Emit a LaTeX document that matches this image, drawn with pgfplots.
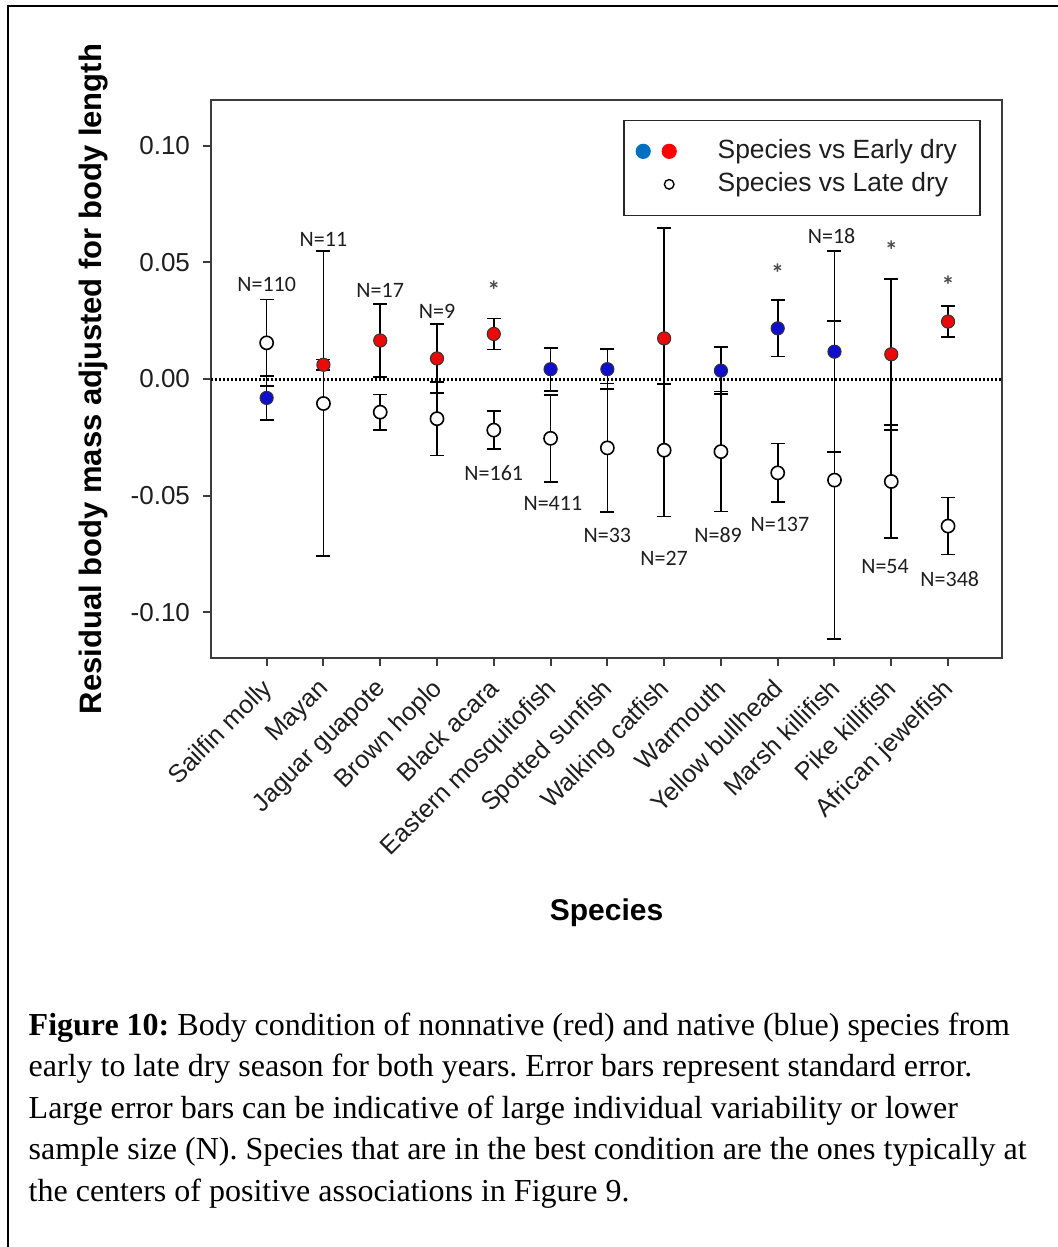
\documentclass[border=0pt]{standalone}
\usepackage{fontspec}
\setmainfont{Liberation Sans}
\newfontfamily\capfont{Liberation Serif}
\newfontfamily\nfont{Carlito}
\usepackage{pgfplots}
\pgfplotsset{compat=1.18}
\usepackage{pgfplotstable}

\definecolor{ptblue}{RGB}{15,15,205}
\definecolor{ptred}{RGB}{235,10,10}
\definecolor{lgblue}{RGB}{0,112,192}
\definecolor{lgred}{RGB}{255,0,0}
\definecolor{axgray}{RGB}{60,60,60}
\definecolor{txt}{RGB}{30,30,30}

\pgfplotstableread{
x y e
0 -0.0081 0.0094
5 0.0042 0.0092
6 0.0042 0.0086
8 0.0036 0.0101
9 0.0217 0.0121
10 0.0117 0.0430
}\native

\pgfplotstableread{
x y e
1 0.0061 0.0023
2 0.0165 0.0155
3 0.0088 0.0147
4 0.0193 0.0066
7 0.0174 0.0473
11 0.0106 0.0323
12 0.0246 0.0066
}\nonnative

\pgfplotstableread{
x y e
0 0.0155 0.0186
1 -0.0105 0.0652
2 -0.0142 0.0076
3 -0.0170 0.0158
4 -0.0219 0.0082
5 -0.0254 0.0186
6 -0.0295 0.0276
7 -0.0305 0.0284
8 -0.0311 0.0257
9 -0.0402 0.0126
10 -0.0433 0.0682
11 -0.0439 0.0242
12 -0.0630 0.0122
}\late

\begin{document}
\frenchspacing
\begin{tikzpicture}
\useasboundingbox (0,0) rectangle (529pt,-623.5pt);
\draw[line width=1pt] (4pt,-623.5pt) -- (4pt,-3pt) -- (529pt,-3pt);
\begin{axis}[
  at={(105.5pt,-329pt)}, anchor=south west,
  scale only axis, width=395.5pt, height=279pt,
  xmin=-0.98, xmax=12.95, ymin=-0.1195, ymax=0.1195,
  clip=false,
  axis line style={axgray, line width=1pt},
  tick style={axgray, line width=1pt},
  major tick length=4pt,
  tick align=outside,
  xtick pos=bottom, ytick pos=left,
  xtick={0,...,12},
  xticklabels={Sailfin molly, Mayan, Jaguar guapote, Brown hoplo, Black acara, Eastern mosquitofish, Spotted sunfish, Walking catfish, Warmouth, Yellow bullhead, Marsh killifish, Pike killifish, African jewelfish},
  ytick={-0.1,-0.05,0,0.05,0.1},
  /pgf/number format/assume math mode=true,
  yticklabel style={/pgf/number format/fixed, /pgf/number format/fixed zerofill, /pgf/number format/precision=2, xshift=-3pt, font=\fontsize{13}{15}\selectfont},
  tick label style={text=txt},
  xticklabel style={font=\fontsize{12.6}{15}\selectfont, rotate=45, anchor=north east, inner sep=0pt, xshift=-6pt, yshift=-1.5pt},
  ylabel={Residual body mass adjusted for body length},
  ylabel style={font=\bfseries\fontsize{15.5}{18}\selectfont, at={(axis description cs:-0.149,0.5)}, anchor=center},
  xlabel={Species},
  xlabel style={font=\bfseries\fontsize{15}{18}\selectfont, at={(axis description cs:0.5,-0.457)}, anchor=center},
  legend style={at={(axis description cs:0.973,0.965)}, anchor=north east, draw=black!85, line width=0.8pt,
    font=\fontsize{13.2}{15}\selectfont, text=txt, inner xsep=0pt, inner ysep=9pt, row sep=3.5pt,
    nodes={inner sep=0pt, text height=10pt, text depth=3pt}},
  legend cell align=left,
]
\addlegendimage{legend image code/.code={\path[draw=none,fill=none] (0pt,-3pt) rectangle (47pt,3pt); \fill[lgblue] (9.75pt,0pt) circle (3.4pt); \fill[lgred] (22.75pt,0pt) circle (3.4pt);}}
\addlegendentry{Species vs Early dry\hspace*{11.5pt}}
\addlegendimage{legend image code/.code={\path[draw=none,fill=none] (0pt,-3pt) rectangle (47pt,3pt); \draw[black, line width=0.7pt, fill=white] (22.75pt,0pt) circle (2.4pt);}}
\addlegendentry{Species vs Late dry}

\addplot[forget plot, black, line width=1.5pt, dash pattern=on 1.2pt off 0.8pt] coordinates {(-0.98,0) (12.95,0)};

\addplot[forget plot, only marks, mark=*, mark size=3.3pt, mark options={fill=white, draw=black, line width=0.8pt},
  error bars/.cd, y dir=both, y explicit,
  error bar style={black, line width=0.85pt},
  error mark options={rotate=90, black, line width=0.85pt, mark size=3.5pt}]
  table[x=x, y=y, y error=e] {\late};

\addplot[forget plot, only marks, mark=*, mark size=3.3pt, mark options={fill=ptblue, draw=black!80, line width=0.5pt},
  error bars/.cd, y dir=both, y explicit,
  error bar style={black, line width=0.85pt},
  error mark options={rotate=90, black, line width=0.85pt, mark size=3.5pt}]
  table[x=x, y=y, y error=e] {\native};

\addplot[forget plot, only marks, mark=*, mark size=3.3pt, mark options={fill=ptred, draw=black!80, line width=0.5pt},
  error bars/.cd, y dir=both, y explicit,
  error bar style={black, line width=0.85pt},
  error mark options={rotate=90, black, line width=0.85pt, mark size=3.5pt}]
  table[x=x, y=y, y error=e] {\nonnative};

\begin{scope}[every node/.style={font=\nfont\fontsize{11}{13}\selectfont, text=txt}]
\node at (axis cs:0,0.0403) {N=110};
\node at (axis cs:1,0.0600) {N=11};
\node at (axis cs:2,0.0381) {N=17};
\node at (axis cs:3,0.0291) {N=9};
\node at (axis cs:4,-0.0403) {N=161};
\node at (axis cs:5.04,-0.0535) {N=411};
\node at (axis cs:6,-0.0668) {N=33};
\node at (axis cs:7,-0.0767) {N=27};
\node at (axis cs:7.95,-0.0668) {N=89};
\node at (axis cs:9.04,-0.0621) {N=137};
\node at (axis cs:9.95,0.0612) {N=18};
\node at (axis cs:10.89,-0.0801) {N=54};
\node at (axis cs:12.03,-0.0857) {N=348};
\end{scope}
\begin{scope}[every node/.style={font=\nfont\bfseries\fontsize{13}{15}\selectfont, text=txt!80, inner sep=0pt}]
\node at (axis cs:4,0.0382) {*};
\node at (axis cs:9,0.0455) {*};
\node at (axis cs:11,0.0553) {*};
\node at (axis cs:12,0.0403) {*};
\end{scope}
\end{axis}

\begin{scope}[every node/.style={font=\capfont\fontsize{16}{19}\selectfont, anchor=base west, inner sep=0pt}]
\node at (14.15pt,-517.5pt) {\textbf{Figure 10:} Body condition of nonnative (red) and native (blue) species from};
\node at (14.15pt,-538.3pt) {early to late dry season for both years. Error bars represent standard error.};
\node at (14.15pt,-559.1pt) {Large error bars can be indicative of large individual variability or lower};
\node at (14.15pt,-579.9pt) {sample size (N). Species that are in the best condition are the ones typically at};
\node at (14.15pt,-600.7pt) {the centers of positive associations in Figure 9.};
\end{scope}
\end{tikzpicture}
\end{document}
